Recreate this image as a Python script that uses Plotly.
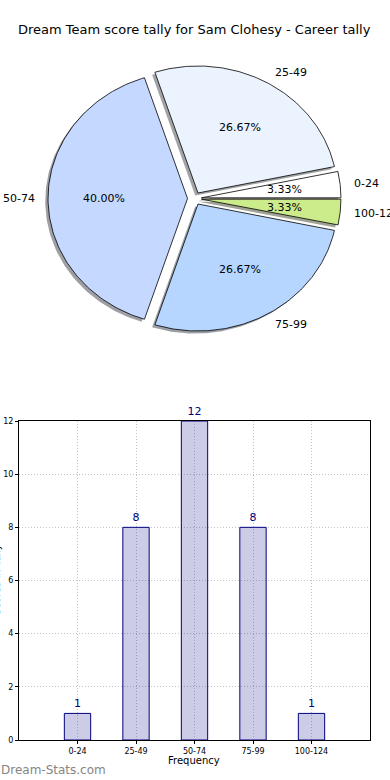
import numpy as np
import plotly.graph_objects as go

# ---- data ----
title = "Dream Team score tally for Sam Clohesy - Career tally"
categories = ["0-24", "25-49", "50-74", "75-99", "100-124"]
counts = [1, 8, 12, 8, 1]
pie_colors = ["#FFFFFF", "#EBF3FF", "#C5D8FF", "#B6D6FF", "#CCEB8A"]

W, H = 390, 780
# pie geometry (pixels)
CX, CY = 194.5, 198.5
AX, BY = 139.5, 127.0
EXPLODE = 0.05

fig = go.Figure()

# pie drawn in its own cartesian axes (x2/y2) -> unit circle stretched to ellipse
x2_range = [(0 - CX) / AX, (W - CX) / AX]
y2_range = [-(390 - CY) / BY, CY / BY]

total = float(sum(counts))
fracs = [c / total for c in counts]
starts = np.cumsum([0] + fracs[:-1]) * 360.0


def wedge(i, dx=0.0, dy=0.0):
    t1 = starts[i]
    t2 = t1 + fracs[i] * 360.0
    mid = np.deg2rad((t1 + t2) / 2)
    ox = EXPLODE * np.cos(mid) + dx
    oy = EXPLODE * np.sin(mid) + dy
    th = np.deg2rad(np.linspace(t1, t2, 120))
    xs = np.concatenate([[ox], ox + np.cos(th), [ox]])
    ys = np.concatenate([[oy], oy + np.sin(th), [oy]])
    return xs, ys, mid, ox, oy


def hex_to_rgb(h):
    h = h.lstrip("#")
    return tuple(int(h[k:k + 2], 16) for k in (0, 2, 4))

# shadows
for i in range(len(counts)):
    xs, ys, *_ = wedge(i, -0.02, -0.02)
    r, g, b = hex_to_rgb(pie_colors[i])
    fig.add_trace(go.Scatter(
        x=xs, y=ys, xaxis="x2", yaxis="y2", mode="lines", fill="toself",
        fillcolor=f"rgba({int(r*0.3)},{int(g*0.3)},{int(b*0.3)},0.5)",
        line=dict(width=0), hoverinfo="skip", showlegend=False))

# wedges
annotations = []
for i in range(len(counts)):
    xs, ys, mid, ox, oy = wedge(i)
    fig.add_trace(go.Scatter(
        x=xs, y=ys, xaxis="x2", yaxis="y2", mode="lines", fill="toself",
        fillcolor=pie_colors[i], line=dict(color="black", width=0.8),
        name=categories[i], showlegend=False))
    # outer label
    lx = ox + 1.1 * np.cos(mid)
    ly = oy + 1.1 * np.sin(mid)
    annotations.append(dict(
        x=lx, y=ly, xref="x2", yref="y2", text=categories[i], showarrow=False,
        xanchor="left" if lx > 0 else "right", yanchor="middle",
        xshift=-2 if lx > 0 else 3,
        font=dict(family="DejaVu Sans", size=11, color="black")))
    # percentage label
    px = ox + 0.6 * np.cos(mid)
    py = oy + 0.6 * np.sin(mid)
    annotations.append(dict(
        x=px, y=py, xref="x2", yref="y2", text=f"{fracs[i]*100:.2f}%", showarrow=False,
        xanchor="center", yanchor="middle",
        font=dict(family="DejaVu Sans", size=11, color="black")))

# ---- bar chart ----
xpos = list(range(1, len(categories) + 1))
fig.add_trace(go.Bar(
    x=xpos, y=counts, width=0.45,
    marker=dict(color="rgba(0,0,128,0.2)", line=dict(color="#000080", width=1)),
    text=[str(c) for c in counts], textposition="outside",
    textfont=dict(family="DejaVu Sans", size=11, color="#000080"),
    cliponaxis=False, showlegend=False))

# title
annotations.append(dict(
    x=194 / W, y=1 - 30 / H, xref="paper", yref="paper", text=title, showarrow=False,
    xanchor="center", yanchor="middle",
    font=dict(family="DejaVu Sans", size=13, color="black")))

# x-axis title
annotations.append(dict(
    x=194 / W, y=1 - 760 / H, xref="paper", yref="paper", text="Frequency", showarrow=False,
    xanchor="center", yanchor="middle",
    font=dict(family="DejaVu Sans", size=10, color="black")))

# y-axis title (mostly off-canvas, as in the reference)
annotations.append(dict(
    x=-4 / W, y=1 - 580 / H, xref="paper", yref="paper", text="Scores in Tally",
    showarrow=False, textangle=-90, xanchor="center", yanchor="middle",
    font=dict(family="DejaVu Sans", size=10, color="black")))

# watermark
annotations.append(dict(
    x=-1 / W, y=1 - 770 / H, xref="paper", yref="paper", text="Dream-Stats.com",
    showarrow=False, xanchor="left", yanchor="middle",
    font=dict(family="DejaVu Sans", size=12, color="#858585")))

grid_common = dict(showgrid=True, gridcolor="#c4c4c4", griddash="1px,2px", gridwidth=1,
                   showline=True, linecolor="black", linewidth=1, mirror=True,
                   ticks="outside", ticklen=3, tickcolor="black",
                   zeroline=False, fixedrange=True, automargin=False,
                   tickfont=dict(family="DejaVu Sans", size=8, color="black"))

fig.update_layout(
    width=W, height=H, margin=dict(l=0, r=0, t=0, b=0, autoexpand=False),
    paper_bgcolor="white", plot_bgcolor="white",
    annotations=annotations,
    xaxis=dict(domain=[19 / W, 370 / W], range=[0, 6], tickmode="array",
               tickvals=xpos, ticktext=categories, **grid_common),
    yaxis=dict(domain=[(H - 740) / H, (H - 421) / H], range=[0, 12],
               tickmode="array", tickvals=list(range(0, 13, 2)), **grid_common),
    xaxis2=dict(domain=[0, 1], range=x2_range, visible=False, fixedrange=True,
                anchor="y2", automargin=False),
    yaxis2=dict(domain=[0.5, 1], range=y2_range, visible=False, fixedrange=True,
                anchor="x2", automargin=False),
)

fig.write_html("out.html", config={"displayModeBar": False},
               post_script="document.body.style.margin='0';")
